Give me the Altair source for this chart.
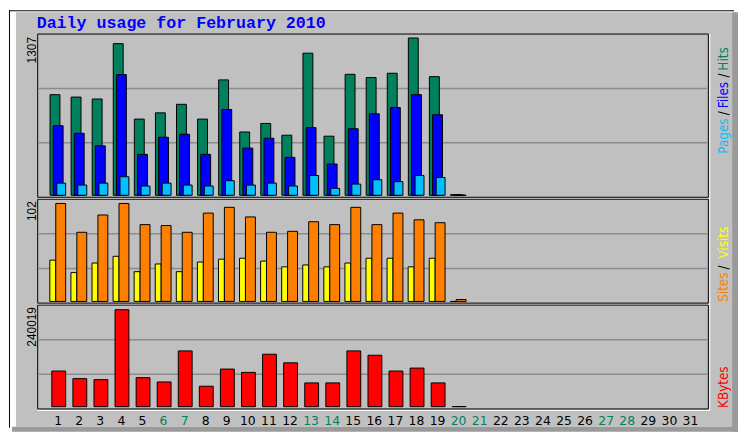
import altair as alt
import pandas as pd

# ---------------- data ----------------
days_with_data = list(range(1, 21))
all_days = list(range(1, 32))
weekend_days = [6, 7, 13, 14, 20, 21, 27, 28]

hits   = [836, 816, 800, 1260, 633, 685, 756, 633, 959, 526, 597, 499, 1181, 491, 1005, 978, 1014, 1307, 986, 5]
files  = [578, 515, 411, 1003, 340, 482, 507, 340, 713, 392, 474, 315, 562, 260, 553, 677, 729, 836, 669, 2]
pages  = [101, 85, 101, 154, 77, 101, 85, 77, 121, 85, 101, 77, 164, 58, 93, 129, 113, 164, 148, 1]
sites  = [102, 72, 90, 102, 80, 79, 72, 92, 98, 88, 72, 73, 83, 80, 98, 80, 92, 85, 82, 2]
visits = [43, 30, 40, 47, 31, 39, 31, 41, 44, 45, 42, 36, 38, 36, 40, 45, 45, 36, 45, 0]
kbytes = [88200, 69400, 66900, 240019, 71800, 61200, 138000, 50600, 93100, 84900,
          129800, 108600, 58800, 58800, 138000, 127300, 88200, 95500, 58800, 300]

title_text = "Daily usage for February 2010"
max_labels = ["1307", "102", "240019"]

# ---------------- colours ----------------
C_HITS, C_FILES, C_PAGES = "#00805C", "#0000FF", "#00C0FF"
C_SITES, C_VISITS, C_KB = "#FF8000", "#FFFF00", "#FF0000"
BG = "#C0C0C0"
GRID = "#8C8C8C"

df = pd.DataFrame({"day": days_with_data, "hits": hits, "files": files, "pages": pages,
                   "sites": sites, "visits": visits, "kbytes": kbytes})
lab = pd.DataFrame({"day": all_days,
                    "label": [str(d) for d in all_days],
                    "weekend": [d in weekend_days for d in all_days]})
one = pd.DataFrame({"k": [0]})

# ---------------- layout (chart pixel coordinates) ----------------
W, H = 741, 426
SP = 21.64
X0 = 42.5
xs = alt.Scale(domain=[1, 31], range=[X0, X0 + 30 * SP])
PL, PR = 30, 708
P1 = (24, 189); P2 = (191, 296); P3 = (298, 403)
Y1 = alt.Scale(domain=[0, 1307], range=[187, 28])
Y2 = alt.Scale(domain=[0, 102], range=[294.3, 195.3])
Y3 = alt.Scale(domain=[0, 240019], range=[400.7, 302.7])


def rect(x1, x2, y1, y2, **kw):
    return alt.Chart(one).mark_rect(**kw).encode(
        x=alt.value(x1), x2=alt.value(x2), y=alt.value(y1), y2=alt.value(y2))


def rule(x1, x2, y1, y2, color, w=1.0):
    return alt.Chart(one).mark_rule(color=color, strokeWidth=w).encode(
        x=alt.value(x1), x2=alt.value(x2), y=alt.value(y1), y2=alt.value(y2))


def txt(s, x, y, color, size, font, angle=0, align="left", baseline="alphabetic", weight="normal"):
    return alt.Chart(one).mark_text(text=s, color=color, fontSize=size, font=font, angle=angle,
                                    align=align, baseline=baseline, fontWeight=weight).encode(
        x=alt.value(x), y=alt.value(y))


layers = []
# frame / bevel
layers.append(rect(8, 732, 2, 421, fill=BG))
layers.append(rect(732, 738, 2, 426, fill="#9A9A9A"))
layers.append(rect(4, 738, 421, 426, fill="#9A9A9A"))
layers.append(rule(1, 734, 0.5, 0.5, "black", 1))
layers.append(rule(1.5, 1.5, 0, 422, "black", 1))

# panels
for (t, b) in (P1, P2, P3):
    layers.append(rule(PR + 1.5, PR + 1.5, t, b + 1.5, "white", 1))
    layers.append(rule(PL, PR + 1.5, b + 1.5, b + 1.5, "white", 1))
    layers.append(rect(PL, PR, t, b, fill=BG, stroke="black", strokeWidth=1))
    h = (b - t) / 3.0
    for g in (t + h, t + 2 * h):
        layers.append(rule(PL + 1, PR - 1, g, g, GRID, 1.5))


def bars(field, color, size, offset, yscale):
    return alt.Chart(df).mark_bar(color=color, stroke="black", strokeWidth=1, size=size,
                                  xOffset=offset, orient="vertical").encode(
        x=alt.X("day:Q", scale=xs, axis=None),
        y=alt.Y(f"{field}:Q", scale=yscale, axis=None),
        y2=alt.datum(0))


layers += [bars("hits", C_HITS, 10, 0, Y1),
           bars("files", C_FILES, 10, 3.2, Y1),
           bars("pages", C_PAGES, 9, 6.3, Y1),
           bars("visits", C_VISITS, 6, -2.2, Y2),
           bars("sites", C_SITES, 10, 5.8, Y2),
           bars("kbytes", C_KB, 14, 3.8, Y3)]

# day labels
layers.append(alt.Chart(lab).mark_text(fontSize=12.5, font="DejaVu Sans", baseline="alphabetic",
                                       align="center", xOffset=3.2).encode(
    x=alt.X("day:Q", scale=xs, axis=None),
    y=alt.value(419.5),
    text="label:N",
    color=alt.condition("datum.weekend", alt.value(C_HITS), alt.value("black"))))

# title
layers.append(txt(title_text, 29, 17.5, "#0000FF", 16.8, "Liberation Mono", weight="bold"))

# max labels (rotated)
LF = "Liberation Sans"
layers.append(txt(max_labels[0], 24, 27, "black", 12, LF, angle=270, align="right", baseline="middle"))
layers.append(txt(max_labels[1], 24, 193, "black", 12, LF, angle=270, align="right", baseline="middle"))
layers.append(txt(max_labels[2], 24, 300, "black", 12, LF, angle=270, align="right", baseline="middle"))

# legends (rotated)
LGF = "DejaVu Sans Condensed, DejaVu Sans"
LX = 723.5
LS = 13.5
for s, y, c in [("Pages", 145, C_PAGES), ("/", 106, "black"), ("Files", 99, C_FILES),
                ("/", 68, "black"), ("Hits", 61, C_HITS),
                ("Sites", 294.7, C_SITES), ("/", 262, "black"), ("Visits", 251, C_VISITS),
                ("KBytes", 402, C_KB)]:
    layers.append(txt(s, LX, y, c, LS, LGF, angle=270, align="left", baseline="middle"))

chart = alt.layer(*layers).resolve_scale(y="independent").properties(
    width=W, height=H, padding=0, autosize=alt.AutoSizeParams(type="none"),
    background="white"
).configure_view(stroke=None)

chart.save("out.html", embed_options={"renderer": "svg", "actions": False})
